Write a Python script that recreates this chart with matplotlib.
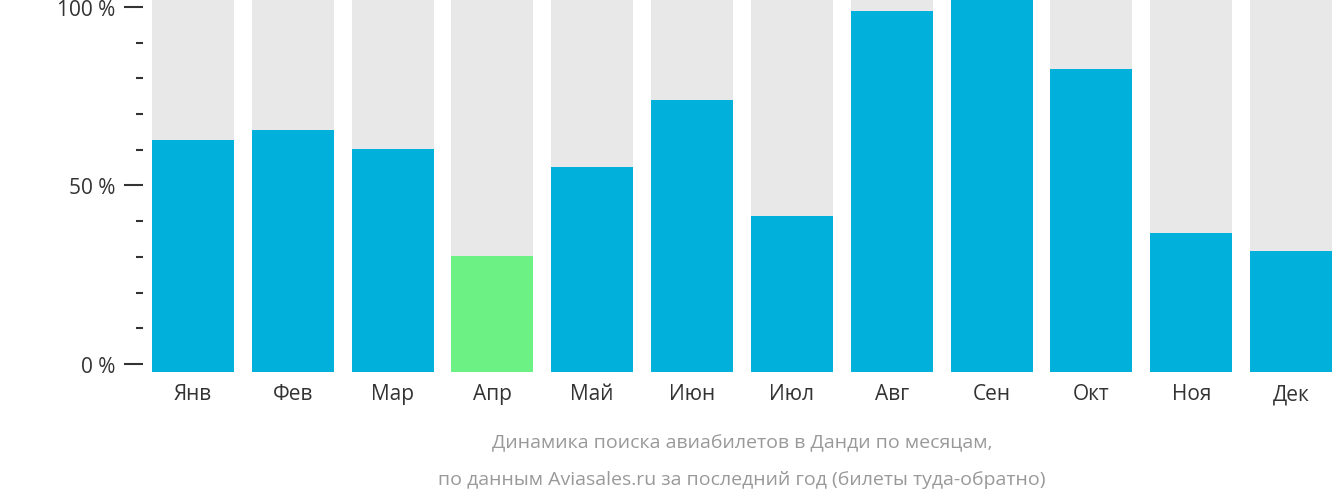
import matplotlib.pyplot as plt
import numpy as np

months = ['Янв', 'Фев', 'Мар', 'Апр', 'Май', 'Июн', 'Июл', 'Авг', 'Сен', 'Окт', 'Ноя', 'Дек']
values = [62.7, 65.5, 60.2, 30.3, 55.2, 74.0, 41.5, 98.9, 102.2, 82.6, 36.7, 31.7]
lowest = 'Апр'

plt.rcParams['font.family'] = 'Open Sans'

fig = plt.figure(figsize=(13.32, 5.02), dpi=100)
ax = fig.add_axes([143 / 1332, 1 - 373 / 502, 1198 / 1332, 373 / 502])

ymin, ymax = -2.24, 102.2
x = np.arange(len(months))
colors = ['#6cf184' if m == lowest else '#02b0dc' for m in months]
ax.bar(x, [ymax - ymin] * len(months), bottom=ymin, width=0.82, color='#e8e8e8')
ax.bar(x, np.array(values) - ymin, bottom=ymin, width=0.82, color=colors)

ax.set_xlim(-0.5, 11.5)
ax.set_ylim(ymin, ymax)
ax.set_xticks(x)
ax.set_xticklabels(months, fontsize=15, color='#333333')
ax.tick_params(axis='x', length=0, pad=8)
ax.set_yticks([0, 50, 100])
ax.set_yticklabels(['0 %', '50 %', '100 %'], fontsize=15, color='#333333')
ax.set_yticks(np.arange(0, 101, 10), minor=True)
ax.tick_params(axis='y', which='major', length=14, width=1.5, color='#333333', pad=6)
ax.tick_params(axis='y', which='minor', length=5, width=1.5, color='#333333')
for s in ax.spines.values():
    s.set_visible(False)

fig.text(742 / 1332, 1 - 443 / 502, 'Динамика поиска авиабилетов в Данди по месяцам,',
         ha='center', va='center', fontsize=14, color='#999999')
fig.text(742 / 1332, 1 - 480 / 502, 'по данным Aviasales.ru за последний год (билеты туда-обратно)',
         ha='center', va='center', fontsize=14, color='#999999')

fig.savefig('out.png', dpi=100)
